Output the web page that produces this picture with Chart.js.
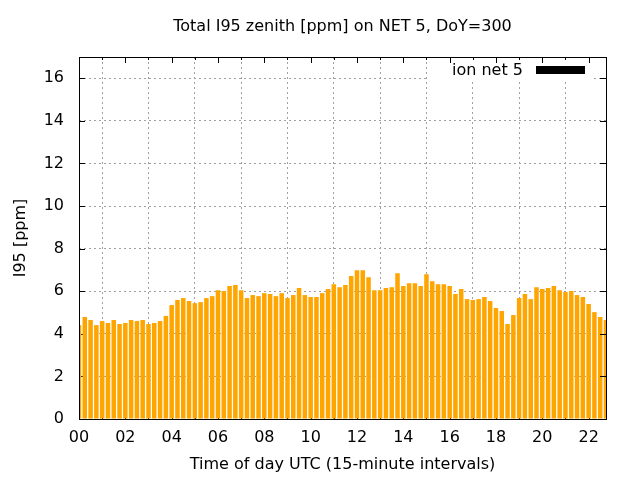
<!DOCTYPE html>
<html><head><meta charset="utf-8">
<script src="https://cdn.jsdelivr.net/npm/chart.js@4/dist/chart.umd.min.js"></script>
<style>html,body{margin:0;padding:0;background:#fff}canvas{display:block}</style>
</head><body>
<canvas id="c" width="640" height="480"></canvas>
<script>
const chartTitle = "Total I95 zenith [ppm] on NET 5, DoY=300";
const xAxisTitle = "Time of day UTC (15-minute intervals)";
const yAxisTitle = "I95 [ppm]";
const seriesName = "ion net 5";

// time of day (hours UTC), 15-minute slots
const hours = [
  0.00, 0.25, 0.50, 0.75, 1.00, 1.25, 1.50, 1.75, 2.00, 2.25, 2.50, 2.75,
  3.00, 3.25, 3.50, 3.75, 4.00, 4.25, 4.50, 4.75, 5.00, 5.25, 5.50, 5.75,
  6.00, 6.25, 6.50, 6.75, 7.00, 7.25, 7.50, 7.75, 8.00, 8.25, 8.50, 8.75,
  9.00, 9.25, 9.50, 9.75, 10.00, 10.25, 10.50, 10.75, 11.00, 11.25, 11.50, 11.75,
  12.00, 12.25, 12.50, 12.75, 13.00, 13.25, 13.50, 13.75, 14.00, 14.25, 14.50, 14.75,
  15.00, 15.25, 15.50, 15.75, 16.00, 16.25, 16.50, 16.75, 17.00, 17.25, 17.50, 17.75,
  18.00, 18.25, 18.50, 18.75, 19.00, 19.25, 19.50, 19.75, 20.00, 20.25, 20.50, 20.75,
  21.00, 21.25, 21.50, 21.75, 22.00, 22.25, 22.50, 22.75
];

// total I95 zenith [ppm]
const i95 = [
  4.41, 4.79, 4.65, 4.41, 4.60, 4.51, 4.65, 4.46, 4.51, 4.65, 4.60, 4.65,
  4.46, 4.51, 4.60, 4.84, 5.35, 5.59, 5.68, 5.54, 5.44, 5.49, 5.68, 5.77,
  6.05, 6.01, 6.24, 6.29, 6.05, 5.68, 5.82, 5.77, 5.91, 5.87, 5.77, 5.91,
  5.68, 5.82, 6.15, 5.82, 5.73, 5.73, 5.91, 6.10, 6.33, 6.19, 6.29, 6.71,
  6.99, 6.99, 6.66, 6.05, 6.05, 6.15, 6.19, 6.85, 6.24, 6.38, 6.38, 6.24,
  6.80, 6.47, 6.33, 6.33, 6.24, 5.87, 6.10, 5.63, 5.59, 5.63, 5.73, 5.54,
  5.21, 5.07, 4.46, 4.88, 5.68, 5.87, 5.63, 6.19, 6.10, 6.15, 6.24, 6.05,
  5.96, 6.01, 5.82, 5.73, 5.40, 5.02, 4.79, 4.65
];

Chart.defaults.font.family = "'DejaVu Sans', sans-serif";
Chart.defaults.font.size = 16;
Chart.defaults.color = '#000';

function px(v) { return Math.round(v) + 0.5; }

const framePlugin = {
  id: 'gnuFrame',
  beforeDatasetsDraw(chart) {
    const {ctx, chartArea: a, scales: {x, y}} = chart;
    ctx.save();
    ctx.strokeStyle = '#000';
    ctx.lineWidth = 1;
    ctx.beginPath();
    const xt = x.ticks.map(t => t.value);
    xt.forEach((v, i) => {
      const p = px(x.getPixelForValue(v));
      ctx.moveTo(p, a.bottom); ctx.lineTo(p, a.bottom - 6);
      const mid = v + 1;
      if (mid <= x.max) {
        const pm = px(x.getPixelForValue(mid));
        ctx.moveTo(pm, a.bottom); ctx.lineTo(pm, a.bottom - 3);
      }
    });
    y.ticks.forEach(t => {
      const p = px(y.getPixelForValue(t.value));
      ctx.moveTo(a.left, p); ctx.lineTo(a.left + 6, p);
    });
    ctx.stroke();
    ctx.restore();
  },
  afterDatasetsDraw(chart) {
    const {ctx, chartArea: a, scales: {x, y}} = chart;
    ctx.save();
    // opaque key box
    ctx.fillStyle = '#fff';
    ctx.fillRect(a.right - 178, a.top, 165, 23);
    ctx.strokeStyle = '#000';
    ctx.lineWidth = 1;
    ctx.beginPath();
    x.ticks.forEach(t => {
      const v = t.value;
      const p = px(x.getPixelForValue(v));
      ctx.moveTo(p, a.top); ctx.lineTo(p, a.top + 6);
      const mid = v + 1;
      if (mid <= x.max) {
        const pm = px(x.getPixelForValue(mid));
        ctx.moveTo(pm, a.top); ctx.lineTo(pm, a.top + 3);
      }
    });
    y.ticks.forEach(t => {
      const p = px(y.getPixelForValue(t.value));
      ctx.moveTo(a.right, p); ctx.lineTo(a.right - 6, p);
    });
    ctx.stroke();
    // border
    ctx.strokeRect(px(a.left), px(a.top), Math.round(a.right) - Math.round(a.left), Math.round(a.bottom) - Math.round(a.top));
    // key
    ctx.fillStyle = '#000';
    ctx.font = "16px 'DejaVu Sans', sans-serif";
    ctx.textAlign = 'right';
    ctx.textBaseline = 'alphabetic';
    ctx.fillText(seriesName, a.right - 83, a.top + 18);
    ctx.fillRect(a.right - 70, a.top + 9, 49, 8);
    ctx.restore();
  }
};

new Chart(document.getElementById('c'), {
  type: 'bar',
  data: {
    datasets: [{
      label: seriesName,
      data: hours.map((h, i) => ({x: h, y: i95[i]})),
      backgroundColor: '#ffa500',
      borderWidth: 0,
      barPercentage: 0.78,
      categoryPercentage: 1.0
    }]
  },
  options: {
    responsive: false,
    animation: false,
    devicePixelRatio: 1,
    layout: {padding: {left: 0, right: 34, top: 0, bottom: 0}},
    plugins: {
      legend: {display: false},
      tooltip: {enabled: false},
      title: {
        display: true,
        text: chartTitle,
        fullSize: false,
        color: '#000',
        font: {size: 16, weight: 'normal', lineHeight: 1},
        padding: {top: 19, bottom: 22}
      }
    },
    scales: {
      x: {
        type: 'linear',
        min: 0,
        max: 22.75,
        offset: false,
        afterFit(s) { s.height = 61; },
        ticks: {
          stepSize: 2,
          includeBounds: false,
          autoSkip: false,
          maxRotation: 0,
          padding: 9,
          color: '#000',
          callback: v => String(v).padStart(2, '0')
        },
        grid: {color: '#a0a0a0', lineWidth: 1, drawTicks: false},
        border: {display: false, dash: [2, 3]},
        title: {display: true, text: xAxisTitle, color: '#000', padding: {top: 0, bottom: 5.4}}
      },
      y: {
        type: 'linear',
        min: 0,
        max: 17,
        afterFit(s) { s.width = 79; },
        ticks: {stepSize: 2, includeBounds: false, padding: 15, color: '#000'},
        grid: {color: '#a0a0a0', lineWidth: 1, drawTicks: false},
        border: {display: false, dash: [2, 3]},
        title: {display: true, text: yAxisTitle, color: '#000', padding: {top: 11, bottom: 0}}
      }
    }
  },
  plugins: [framePlugin]
});
</script>
</body></html>
